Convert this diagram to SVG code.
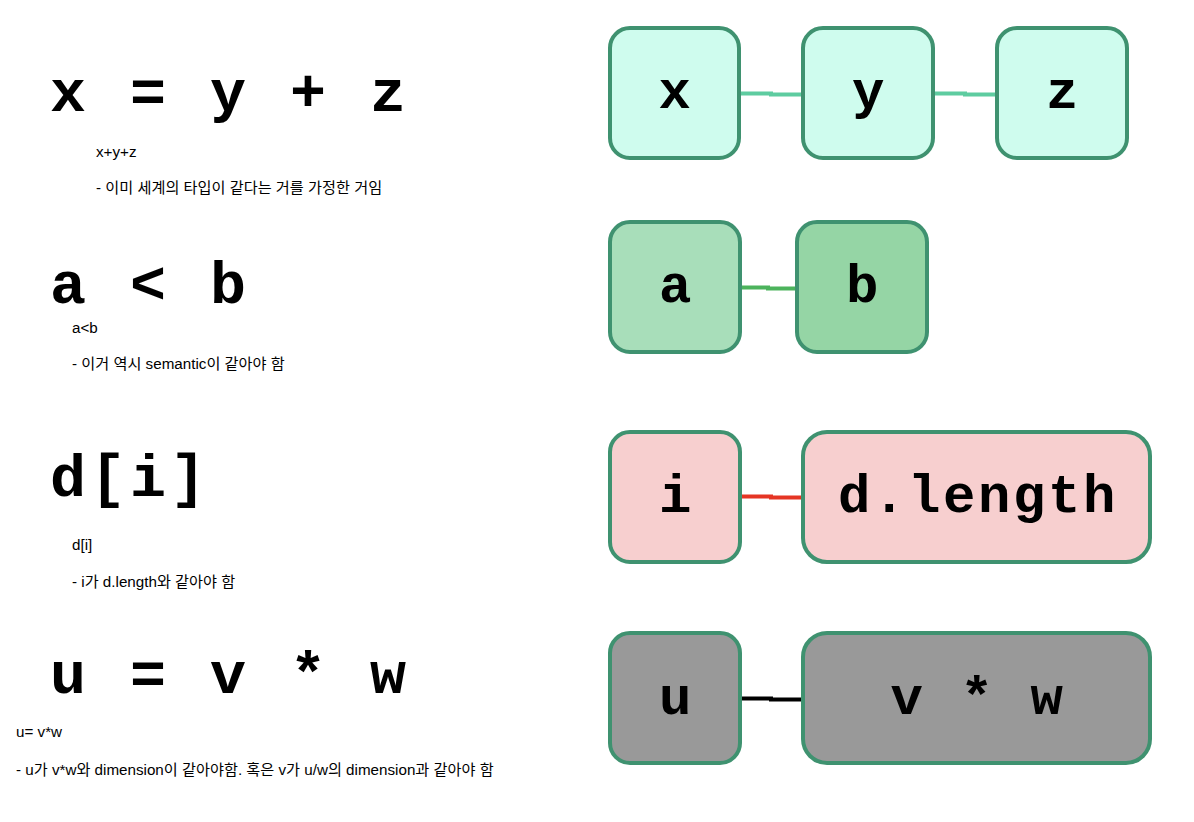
<svg xmlns="http://www.w3.org/2000/svg" width="1194" height="822" viewBox="0 0 1194 822">
<style>
.big{font-family:"Courier New","Liberation Mono",monospace;font-weight:bold;font-size:60px;letter-spacing:4px;fill:#000;white-space:pre}
.lbl{font-family:"Courier New","Liberation Mono",monospace;font-weight:bold;font-size:54px;letter-spacing:2.6px;fill:#000;text-anchor:middle;white-space:pre}
.note{font-family:"Liberation Sans","Noto Sans CJK KR",sans-serif;font-size:15.2px;fill:#000}
.box{stroke:#3f9270;stroke-width:4}
.mint{fill:#cffcee}
.lg{fill:#a8deba}
.mg{fill:#95d5a5}
.pink{fill:#f7cfcf}
.gray{fill:#999999}
.con{fill:none;stroke-width:4}
</style>
<rect width="1194" height="822" fill="#ffffff"/>
<g id="equations">
<text class="big" x="50" y="111" xml:space="preserve">x = y + z</text>
<text class="big" x="50" y="303" xml:space="preserve">a &lt; b</text>
<text class="big" x="50" y="496">d[i]</text>
<text class="big" x="50" y="693" xml:space="preserve">u = v * w</text>
</g>
<g id="notes">
<text class="note" x="96" y="157">x+y+z</text>
<text class="note" x="96" y="193">- 이미 세계의 타입이 같다는 거를 가정한 거임</text>
<text class="note" x="72" y="333">a&lt;b</text>
<text class="note" x="72" y="369">- 이거 역시 semantic이 같아야 함</text>
<text class="note" x="72" y="550">d[i]</text>
<text class="note" x="72" y="587">- i가 d.length와 같아야 함</text>
<text class="note" x="16" y="737">u= v*w</text>
<text class="note" x="16" y="775">- u가 v*w와 dimension이 같아야함. 혹은 v가 u/w의 dimension과 같아야 함</text>
</g>
<g id="connectors">
<path class="con" stroke="#5ecca0" d="M739 93.5 H771 V94.5 H803"/>
<path class="con" stroke="#5ecca0" d="M933 93.5 H965 V94.5 H997"/>
<path class="con" stroke="#4cb35c" d="M740 287.5 H768 V288.5 H797"/>
<path class="con" stroke="#e53524" d="M740 496.5 H771 V497.5 H803"/>
<path class="con" stroke="#000000" d="M740 698.5 H771 V699.5 H803"/>
</g>
<g id="node-x"><rect class="box mint" x="610" y="28" width="129" height="130" rx="20"/><text class="lbl" x="676" y="108">x</text></g>
<g id="node-y"><rect class="box mint" x="803" y="28" width="130" height="130" rx="20"/><text class="lbl" x="869.5" y="108">y</text></g>
<g id="node-z"><rect class="box mint" x="997" y="28" width="130" height="130" rx="20"/><text class="lbl" x="1063.5" y="108">z</text></g>
<g id="node-a"><rect class="box lg" x="610" y="222" width="130" height="130" rx="20"/><text class="lbl" x="676.5" y="302">a</text></g>
<g id="node-b"><rect class="box mg" x="797" y="222" width="130" height="130" rx="20"/><text class="lbl" x="863.5" y="302">b</text></g>
<g id="node-i"><rect class="box pink" x="610" y="432" width="130" height="130" rx="20"/><text class="lbl" x="676.5" y="512">i</text></g>
<g id="node-dlength"><rect class="box pink" x="803" y="432" width="347" height="130" rx="24"/><text class="lbl" x="978" y="512">d.length</text></g>
<g id="node-u"><rect class="box gray" x="610" y="633" width="130" height="130" rx="20"/><text class="lbl" x="676.5" y="714">u</text></g>
<g id="node-vw"><rect class="box gray" x="803" y="633" width="347" height="130" rx="24"/><text class="lbl" x="978" y="714" xml:space="preserve">v * w</text></g>
</svg>
